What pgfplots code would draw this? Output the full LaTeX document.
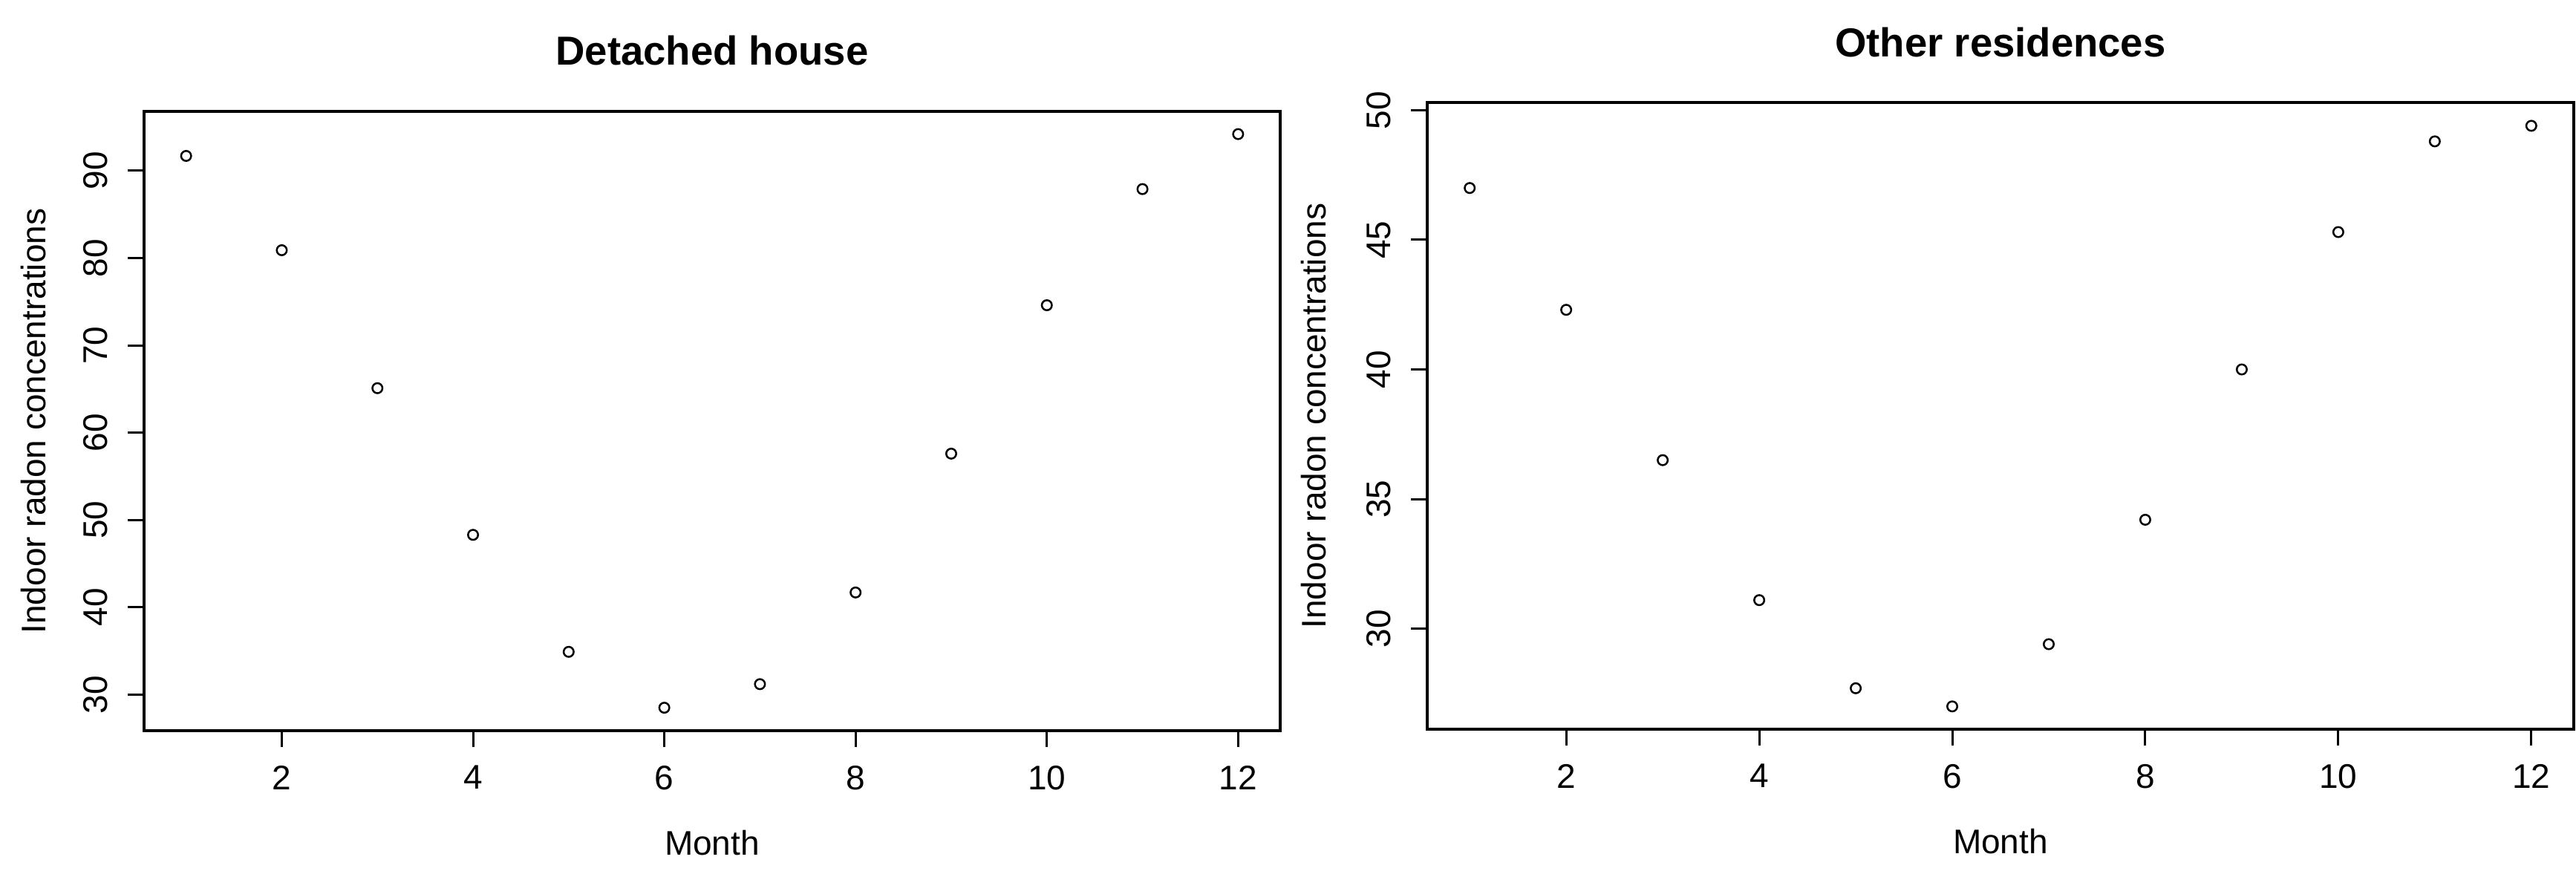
\documentclass[border=0pt]{standalone}
\usepackage{fontspec}
\setmainfont{Liberation Sans}
\usepackage{pgfplots}
\pgfplotsset{compat=1.18}

% 1 px of the reference = 0.2pt
\pgfplotsset{rplot/.style={
    scale only axis, anchor=south west,
    xmin=0.56, xmax=12.44, xtick={2,4,...,12},
    tick align=outside, tick pos=left, major tick length=4.4pt,
    axis line style={line width=0.65pt},
    every tick/.style={black,line width=0.6pt},
    /pgf/number format/assume math mode=true,
    ticklabel style={font=\fontsize{9.2}{11}\selectfont,inner sep=0pt},
    xticklabel style={anchor=north},
    yticklabel style={rotate=90,anchor=south},
    xticklabel shift=4.8pt, yticklabel shift=5.2pt,
    label style={font=\fontsize{9.2}{11}\selectfont,inner sep=0pt},
    xlabel style={at={(axis description cs:0.5,0)},anchor=north,yshift=-26.6pt},
    title style={font=\bfseries\fontsize{10.9}{13}\selectfont,inner sep=0pt,
      at={(axis description cs:0.5,1)},anchor=base},
    mark size=1.35pt,
  }}

\begin{document}
\begin{tikzpicture}
\begin{axis}[rplot, at={(38.8pt,38.6pt)}, width=306pt, height=166.8pt,
    ymin=25.87, ymax=96.8, ytick={30,40,...,90},
    title={Detached house}, title style={yshift=6.6pt},
    xlabel={Month}, ylabel={Indoor radon concentrations},
    ylabel style={at={([xshift=-26.2pt]axis description cs:0,0.5)},anchor=south,rotate=0}]
  \addplot[only marks, mark=o, mark options={line width=0.5pt}] coordinates {
    (1,91.7) (2,80.9) (3,65.1) (4,48.3) (5,34.9) (6,28.5)
    (7,31.2) (8,41.7) (9,57.6) (10,74.6) (11,87.9) (12,94.2)};
\end{axis}
\begin{axis}[rplot, at={(384.4pt,39pt)}, width=308.8pt, height=168.8pt,
    ymin=26.12, ymax=50.3, ytick={30,35,...,50},
    title={Other residences}, title style={yshift=6.2pt},
    xlabel={Month}, ylabel={Indoor radon concentrations},
    ylabel style={at={([xshift=-27pt]axis description cs:0,0.5)},anchor=south,rotate=0}]
  \addplot[only marks, mark=o, mark options={line width=0.5pt}] coordinates {
    (1,47.0) (2,42.3) (3,36.5) (4,31.1) (5,27.7) (6,27.0)
    (7,29.4) (8,34.2) (9,40.0) (10,45.3) (11,48.8) (12,49.4)};
\end{axis}
\pgfresetboundingbox
\path (0,0) rectangle (693.8pt,235.4pt);
\end{tikzpicture}
\end{document}
